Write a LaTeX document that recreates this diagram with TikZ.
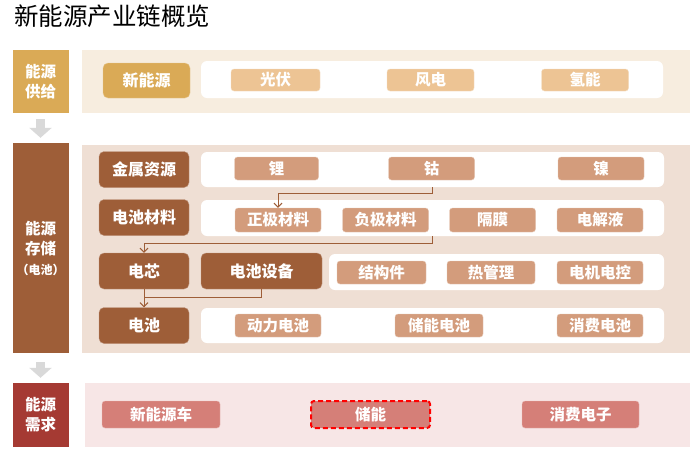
\documentclass[tikz,border=0pt]{standalone}
\usepackage{fontspec}
\setmainfont{Noto Sans CJK SC}
\usetikzlibrary{arrows.meta}

\definecolor{supplygold}{RGB}{218,170,86}
\definecolor{supplybg}{RGB}{247,237,223}
\definecolor{supplychip}{RGB}{237,196,148}
\definecolor{storebrown}{RGB}{158,94,56}
\definecolor{storebg}{RGB}{239,223,212}
\definecolor{storechip}{RGB}{211,156,124}
\definecolor{demandred}{RGB}{165,58,51}
\definecolor{demandbg}{RGB}{247,230,230}
\definecolor{demandchip}{RGB}{213,127,120}
\definecolor{flowgray}{RGB}{217,217,217}

\tikzset{
  stagebox/.style={fill=#1, minimum width=56pt, inner sep=0pt, align=center,
    text=white, font=\fontsize{15.5}{20}\selectfont\bfseries},
  rowbox/.style={fill=#1, draw=white!35!#1, rounded corners=5pt, minimum height=36pt,
    inner sep=0pt, text=white, font=\fontsize{16}{18}\selectfont\bfseries},
  chip/.style={fill=#1, draw=white!45!#1, rounded corners=3pt, minimum height=23pt,
    minimum width=86pt, inner sep=0pt, text=white, font=\fontsize{15.5}{18}\selectfont\bfseries},
  stagearrow/.style={flowgray, line width=9pt, -{Triangle[width=22pt,length=10pt]}},
  feed/.style={storebrown, line width=1pt, -{Straight Barb[length=4pt,width=8pt]}},
  feedline/.style={storebrown, line width=1pt}
}

\begin{document}
\begin{tikzpicture}[x=1pt,y=-1pt]
\useasboundingbox (0,0) rectangle (700,456);

% title
\node[anchor=west, inner sep=0pt, font=\fontsize{24.5}{28}\selectfont] (title) at (14,16) {新能源产业链概览};

% ---- supply ----
\fill[supplybg] (82,50) rectangle (690,113);
\fill[white, rounded corners=6pt] (201,61) rectangle (663,98);
\node[stagebox=supplygold, minimum height=63pt] (supply) at (40.5,81.5) {能源\\供给};
\node[rowbox=supplygold, minimum width=87pt, minimum height=35pt] (newenergy) at (146.5,80.5) {新能源};
\node[chip=supplychip, minimum height=22pt, minimum width=89pt] (pv) at (275.5,80) {光伏};
\node[chip=supplychip, minimum height=22pt, minimum width=87pt] (wind) at (430.5,80) {风电};
\node[chip=supplychip, minimum height=22pt, minimum width=87pt] (hydrogen) at (585,80) {氢能};

% ---- storage ----
\fill[storebg] (82,145) rectangle (690,353);
\fill[white, rounded corners=6pt] (201,152) rectangle (664,187);
\fill[white, rounded corners=6pt] (201,200) rectangle (664,236);
\fill[white, rounded corners=6pt] (329,254) rectangle (664,290);
\fill[white, rounded corners=6pt] (201,308) rectangle (664,343);
\coordinate (metallane) at (432.5,187);
\coordinate (matlane) at (432.5,236);
\node[stagebox=storebrown, minimum height=210pt] (storage) at (40.5,248)
  {能源\\存储\\{\fontsize{12}{22}\selectfont （电池）}};
\node[rowbox=storebrown, minimum width=90pt] (metal) at (144,169.5) {金属资源};
\node[rowbox=storebrown, minimum width=90pt] (material) at (144,217.5) {电池材料};
\node[rowbox=storebrown, minimum width=90pt] (cell) at (144,271) {电芯};
\node[rowbox=storebrown, minimum width=121pt] (equip) at (261.5,271) {电池设备};
\node[rowbox=storebrown, minimum width=90pt] (battery) at (144,325.5) {电池};

\node[chip=storechip, minimum width=84pt] (lithium) at (276.5,168.5) {锂};
\node[chip=storechip] (cobalt) at (431.5,168.5) {钴};
\node[chip=storechip] (nickel) at (601,168.5) {镍};

\node[chip=storechip, minimum height=24pt] (cathode) at (278,220) {正极材料};
\node[chip=storechip, minimum height=24pt] (anode) at (385.5,220) {负极材料};
\node[chip=storechip, minimum height=24pt] (separator) at (492.5,220) {隔膜};
\node[chip=storechip, minimum height=24pt] (electrolyte) at (600,220) {电解液};

\node[chip=storechip, minimum width=89pt] (structure) at (381.5,272.5) {结构件};
\node[chip=storechip, minimum width=88pt] (thermal) at (491,272.5) {热管理};
\node[chip=storechip] (motor) at (600,272.5) {电机电控};

\node[chip=storechip] (powerbat) at (278,325.5) {动力电池};
\node[chip=storechip, minimum width=88pt] (storebat) at (439,325.5) {储能电池};
\node[chip=storechip] (consumerbat) at (600,325.5) {消费电池};

% flows inside storage
\draw[feed] (metallane) -- ++(0,6) -| (cathode.north);
\draw[feed] (matlane) -- ++(0,7) -| (cell.north);
\draw[feedline] (equip.south) -- ++(0,8) -| (battery.north);
\draw[feed] (cell.south) -- (battery.north);

% ---- demand ----
\fill[demandbg] (85,383) rectangle (690,447);
\node[stagebox=demandred, minimum height=64pt] (demand) at (40.5,415) {能源\\需求};
\node[chip=demandchip, minimum height=27pt, minimum width=118pt] (ev) at (161,414.5) {新能源车};
\node[chip=demandchip, minimum height=27pt, minimum width=119pt, draw=red, dashed,
  line width=2pt, dash pattern=on 5pt off 3pt] (ess) at (370.5,414.5) {储能};
\node[chip=demandchip, minimum height=27pt, minimum width=117pt] (consumer) at (580.5,414.5) {消费电子};

% stage arrows
\draw[stagearrow, shorten <=6pt, shorten >=5pt] (supply.south) -- (storage.north);
\draw[stagearrow, shorten <=9pt, shorten >=5pt] (storage.south) -- (demand.north);
\end{tikzpicture}
\end{document}
